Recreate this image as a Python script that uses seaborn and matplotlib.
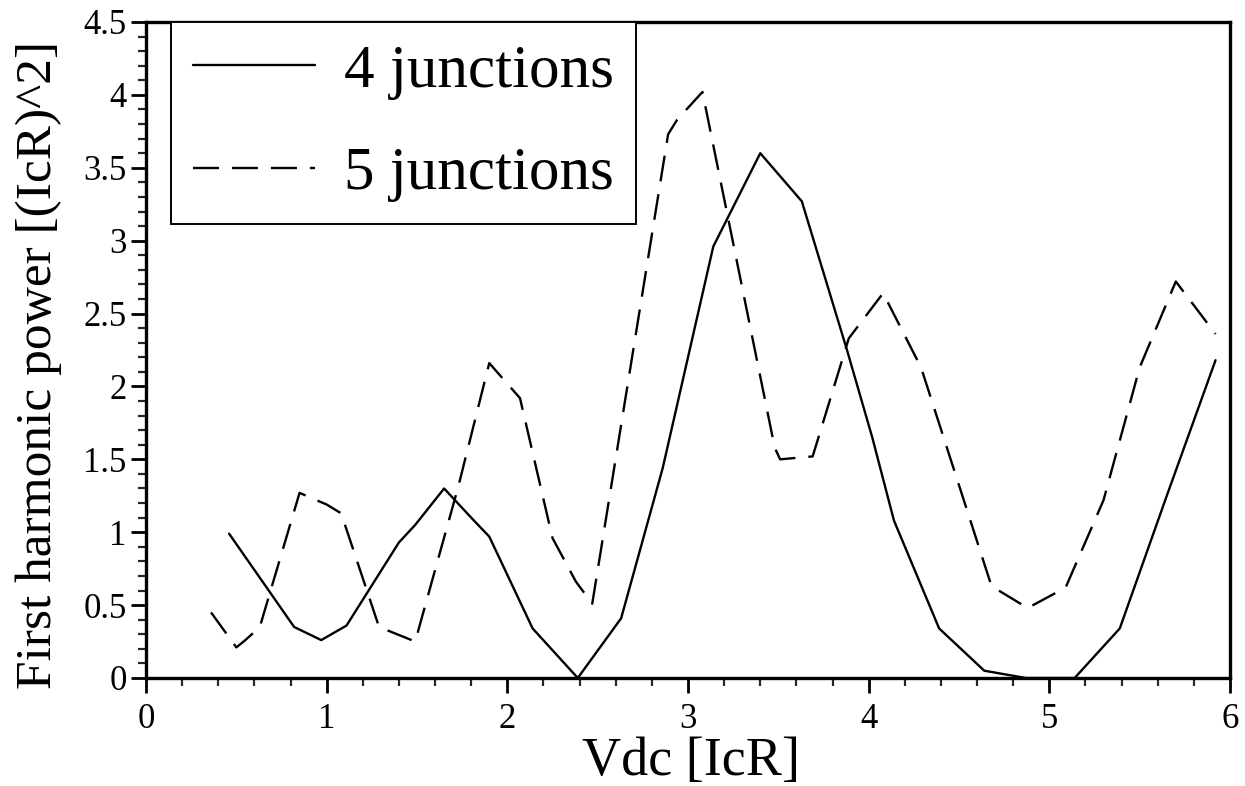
import matplotlib
matplotlib.use("Agg")
import matplotlib.pyplot as plt
from matplotlib.ticker import MultipleLocator
import seaborn as sns

# 4 junctions (solid)
vdc_4 = [0.46, 0.82, 0.97, 1.11, 1.40, 1.49, 1.65, 1.80, 1.90, 2.14, 2.39,
         2.63, 2.86, 3.14, 3.40, 3.63, 3.88, 4.02, 4.14, 4.39, 4.64, 4.87,
         5.14, 5.39, 5.65, 5.92]
power_4 = [0.99, 0.35, 0.26, 0.36, 0.93, 1.05, 1.30, 1.10, 0.97, 0.34, 0.0,
           0.41, 1.44, 2.96, 3.60, 3.27, 2.25, 1.65, 1.08, 0.34, 0.05, 0.0,
           0.0, 0.34, 1.25, 2.18]

# 5 junctions (dashed)
vdc_5 = [0.36, 0.50, 0.55, 0.63, 0.85, 1.00, 1.08, 1.29, 1.49, 1.73, 1.90,
         2.07, 2.25, 2.38, 2.47, 2.89, 2.94, 3.08, 3.48, 3.51, 3.69, 3.89,
         4.08, 4.29, 4.68, 4.88, 5.09, 5.30, 5.50, 5.70, 5.92]
power_5 = [0.45, 0.21, 0.26, 0.35, 1.27, 1.19, 1.13, 0.35, 0.25, 1.32, 2.16,
           1.92, 0.96, 0.66, 0.51, 3.73, 3.83, 4.02, 1.58, 1.50, 1.52, 2.33,
           2.64, 2.13, 0.63, 0.48, 0.62, 1.22, 2.13, 2.72, 2.36]

labels = ["4 junctions", "5 junctions"]
x_label = "Vdc [IcR]"
y_label = "First harmonic power [(IcR)^2]"
x_ticks = ["0", "1", "2", "3", "4", "5", "6"]
y_ticks = ["0", "0.5", "1", "1.5", "2", "2.5", "3", "3.5", "4", "4.5"]

sns.set_theme(style="white")
plt.rcParams["font.family"] = ["Liberation Serif", "DejaVu Serif"]
plt.rcParams["text.color"] = "black"

fig = plt.figure(figsize=(12.45, 7.86), dpi=100)
ax = fig.add_axes([146/1245, 1-678/786, (1230-146)/1245, (678-22)/786])

sns.lineplot(x=vdc_4, y=power_4, ax=ax, color="black", lw=1.7,
             label=labels[0], sort=False)
sns.lineplot(x=vdc_5, y=power_5, ax=ax, color="black", lw=1.7,
             label=labels[1], sort=False)
ax.lines[1].set_dashes([11, 5.5])

ax.set_xlim(0, 6)
ax.set_ylim(0, 4.5)
ax.set_xticks([float(t) for t in x_ticks])
ax.set_xticklabels(x_ticks)
ax.set_yticks([float(t) for t in y_ticks])
ax.set_yticklabels(y_ticks)
ax.xaxis.set_minor_locator(MultipleLocator(0.2))
ax.yaxis.set_minor_locator(MultipleLocator(0.1))

ax.tick_params(which="major", direction="out", length=11, width=2,
               labelsize=25, colors="black", bottom=True, left=True)
ax.tick_params(axis="x", which="major", pad=7)
ax.tick_params(axis="y", which="major", pad=3)
ax.tick_params(which="minor", direction="out", length=5.5, width=1.6,
               bottom=True, left=True)
for s in ax.spines.values():
    s.set_visible(True)
    s.set_color("black")
    s.set_linewidth(2.4)

ax.set_xlabel(x_label, fontsize=39, color="black")
ax.set_ylabel(y_label, fontsize=37, color="black")
ax.xaxis.set_label_coords((691-146)/1084, (678-736)/656)
ax.yaxis.set_label_coords((62-146)/1084, (678-365)/656)

leg = ax.legend(loc="upper left", bbox_to_anchor=((171-146)/1084, 1.0),
                borderaxespad=0, fontsize=44, handlelength=2.0,
                handletextpad=0.47, labelspacing=0.76, borderpad=0.36,
                fancybox=False, frameon=True, labelcolor="black")
leg.get_frame().set_edgecolor("black")
leg.get_frame().set_linewidth(1.4)
leg.get_frame().set_alpha(1)
for h in leg.get_lines():
    h.set_color("black")
    h.set_linewidth(1.7)

fig.savefig("out.png", dpi=100)
